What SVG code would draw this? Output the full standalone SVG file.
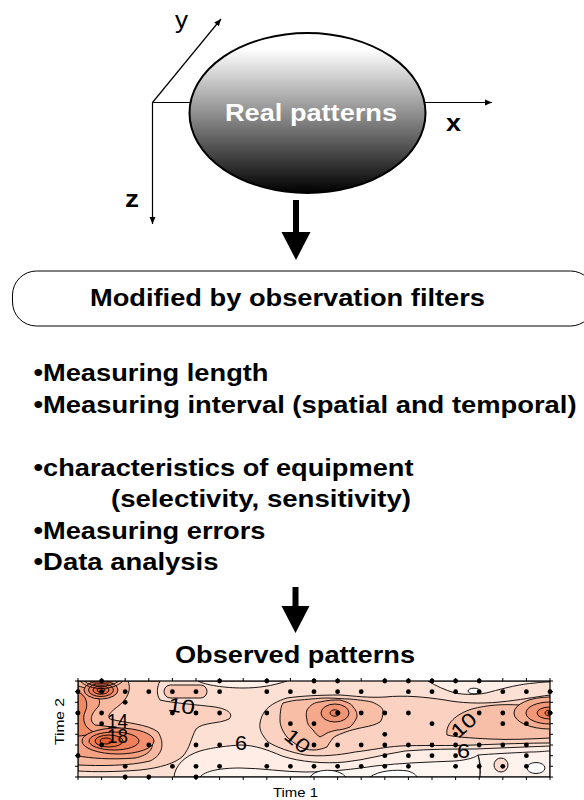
<svg xmlns="http://www.w3.org/2000/svg" width="584" height="800" viewBox="0 0 584 800">
<style>
.b{font-family:"Liberation Sans",Arial,sans-serif;font-weight:bold;font-size:23px;fill:#000}
.r{font-family:"Liberation Sans",Arial,sans-serif;fill:#000}
.ax{stroke:#000;stroke-width:1.2;fill:none}
.c{stroke:#000;stroke-width:0.9}
.lbl{font-family:"Liberation Sans",Arial,sans-serif;font-size:20px;fill:#000}
.d{fill:#000}
.tk{stroke:#000;stroke-width:1}
</style>
<defs>
<linearGradient id="g" x1="0" y1="0" x2="0" y2="1">
<stop offset="0" stop-color="#ffffff"/>
<stop offset="0.1" stop-color="#ffffff"/>
<stop offset="0.5" stop-color="#909090"/>
<stop offset="1" stop-color="#000000"/>
</linearGradient>
<marker id="ah" markerWidth="8" markerHeight="8" refX="7" refY="4" orient="auto" markerUnits="userSpaceOnUse">
<path d="M0,1 L7,4 L0,7 Z" fill="#000"/>
</marker>
<clipPath id="pc"><rect x="78" y="681" width="472" height="96"/></clipPath>
</defs>

<g id="axes">
<line class="ax" x1="152.5" y1="102.5" x2="492" y2="102.5" marker-end="url(#ah)"/>
<line class="ax" x1="152.5" y1="102.5" x2="221" y2="19" marker-end="url(#ah)"/>
<line class="ax" x1="152.5" y1="102.5" x2="152.5" y2="224" marker-end="url(#ah)"/>
<text class="r" x="175" y="28" font-size="24" textLength="13" lengthAdjust="spacingAndGlyphs">y</text>
<text class="b" x="446" y="131" font-size="22" textLength="15" lengthAdjust="spacingAndGlyphs">x</text>
<text class="b" x="125" y="207" font-size="22" textLength="14" lengthAdjust="spacingAndGlyphs">z</text>
</g>

<g id="real-patterns">
<ellipse cx="307.5" cy="113" rx="118" ry="80" fill="url(#g)" stroke="#000" stroke-width="2"/>
<text class="b" x="225" y="121" style="fill:#fff" textLength="172" lengthAdjust="spacingAndGlyphs">Real patterns</text>
</g>

<g id="connectors">
<path d="M293,200 H299 V232 H310.5 L296,260 L281.5,232 H293 Z" fill="#000"/>
<path d="M292.5,587 H298.5 V606 H309.5 L295.5,633 L281.5,606 H292.5 Z" fill="#000"/>
</g>

<g id="filters">
<rect x="12.5" y="271" width="582" height="55" rx="24" ry="24" fill="#fff" stroke="#000" stroke-width="1"/>
<text class="b" x="90" y="306" textLength="395" lengthAdjust="spacingAndGlyphs">Modified by observation filters</text>
</g>

<g id="factors">
<text class="b" x="33.5" y="381" textLength="235" lengthAdjust="spacingAndGlyphs">•Measuring length</text>
<text class="b" x="33.5" y="412.5" textLength="543" lengthAdjust="spacingAndGlyphs">•Measuring interval (spatial and temporal)</text>
<text class="b" x="33.5" y="475.5" textLength="380" lengthAdjust="spacingAndGlyphs">•characteristics of equipment</text>
<text class="b" x="111" y="507" textLength="300" lengthAdjust="spacingAndGlyphs">(selectivity, sensitivity)</text>
<text class="b" x="33.5" y="538.5" textLength="232" lengthAdjust="spacingAndGlyphs">•Measuring errors</text>
<text class="b" x="33.5" y="569.5" textLength="185" lengthAdjust="spacingAndGlyphs">•Data analysis</text>
</g>

<g id="observed-patterns">
<text class="b" x="175" y="663" textLength="240" lengthAdjust="spacingAndGlyphs">Observed patterns</text>
<g clip-path="url(#pc)">
<rect x="78" y="681" width="472" height="96" fill="#fde0d4"/>
<path class="c" fill="#ffede6" d="M174,777 C175,766 184,756 200,751 C214,747 228,746 240,745 C255,745 268,750 282,756 C300,762 325,764 345,762 C365,760 385,754 405,751 C430,749 452,749 475,749 C500,748 525,747 550,746 L550,777 Z"/>
<path class="c" fill="#fff6f2" d="M200,777 C205,771 220,768 240,768 C260,768 285,772 305,772 C330,772 355,769 375,766 C400,763 430,762 455,761 C468,760 476,757 478,755 C480,762 480,770 480,777 Z"/>
<path class="c" fill="#ffffff" d="M310,777 C314,771 325,769 335,771 C342,773 344,775 346,777 Z"/>
<path class="c" fill="#ffffff" d="M370,777 C378,771 395,769 408,771 C414,773 416,775 417,777 Z"/>
<path class="c" fill="#fff1ec" d="M480,777 C481,768 480,760 478,755 C490,754 510,753 530,752 C540,752 546,751 550,751 L550,777 Z"/>
<ellipse class="c" cx="536" cy="768" rx="9" ry="5.5" fill="#fff"/>
<circle class="c" cx="501" cy="765" r="7" fill="#fcdace"/>
<path class="c" fill="#ffefe9" d="M198,681 C205,685 225,688 243,688 C258,688 272,686 287,681 Z"/>
<path class="c" fill="#ffefe9" d="M428,681 C436,686 445,690 455,693 C465,695 480,695 490,692 C505,688 520,684 535,683 C542,682 547,682 550,682 L550,681 Z"/>
<ellipse class="c" cx="474" cy="691" rx="6" ry="2.8" fill="#fff"/>
<path class="c" fill="#fbd0be" d="M78,681 L160,681 C157,687 156,694 160,700 C172,703 200,705 215,707 C228,709 234,714 229,719 C219,724 203,722 196,729 C191,738 190,748 183,756 C176,763 160,768 140,770 C115,772 95,772 78,771 Z"/>
<rect class="c" x="164" y="685" width="43" height="13" rx="6.5" fill="#f9c7b3"/>
<path class="c" fill="#f7b99f" d="M78,681 L128,681 C131,688 129,696 122,703 C114,710 106,714 110,719 C125,723 148,724 158,732 C165,743 163,755 150,761 C130,766 100,766 78,765 Z"/>
<path class="c" fill="#f4a283" d="M78,686 C92,689 104,698 98,707 C92,713 88,720 95,725 C115,727 138,730 150,738 C156,747 150,755 135,758 C110,760 90,758 78,756 Z"/>
<path class="c" fill="#f08a63" d="M78,692 C86,695 89,704 85,712 C82,719 84,728 94,732 C88,735 82,736 78,736 Z"/>
<ellipse class="c" cx="118" cy="741" rx="36" ry="13" fill="#f29070"/>
<ellipse class="c" cx="114" cy="741" rx="25" ry="9" fill="#ef7f58"/>
<ellipse class="c" cx="109" cy="741" rx="14" ry="6" fill="#eb6d42"/>
<ellipse class="c" cx="106" cy="741" rx="6" ry="3" fill="#e65f32"/>
<ellipse class="c" cx="101" cy="690" rx="17" ry="9" fill="#f29070"/>
<ellipse class="c" cx="101" cy="690" rx="12.5" ry="6.5" fill="#ef7f58"/>
<ellipse class="c" cx="101" cy="690" rx="8" ry="4.2" fill="#eb6d42"/>
<ellipse class="c" cx="101" cy="690" rx="4" ry="2.2" fill="#e45a2c"/>
<path fill="#6b2a14" opacity="0.8" d="M88,681 C94,686 108,686 115,681 Z"/>
<path class="c" fill="none" d="M84,681 C92,688 110,688 119,681 M80,681 C90,691 113,691 123,681"/>
<path class="c" fill="#fbd2c1" d="M260,723 C262,712 268,704 287,698 C300,696 320,695 340,695 C355,696 368,698 385,697 C405,695 425,697 445,700 C460,703 480,704 500,702 C520,700 535,697 550,695 L550,743 C530,743 500,744 474,745 C450,746 420,745 400,746 C385,747 372,750 355,752 C340,755 320,757 305,755 C290,752 278,748 268,742 C262,735 259,730 260,723 Z"/>
<path class="c" fill="#f8bea6" d="M283,703 C290,701 296,700 300,700 C312,699 320,698 327,698 C335,698 343,699 350,699 C360,700 368,701 372,702 C379,705 383,708 383,711 C383,716 382,720 380,722 C375,725 370,726 365,727 C355,729 348,731 343,733 C338,735 335,736 333,738 C330,742 328,745 327,747 C322,749 318,750 313,750 C308,750 304,749 300,747 C294,743 290,740 287,737 C283,732 280,726 280,720 C280,712 281,706 283,703 Z"/>
<path class="c" fill="#f5a88b" d="M307,710 C310,705 315,702 320,702 C328,700 334,700 340,700 C347,702 352,704 353,707 C357,711 357,714 357,717 C355,722 352,725 350,727 C345,729 340,730 337,730 C333,731 329,732 327,733 C324,735 322,736 320,737 C317,735 315,733 313,730 C310,727 307,724 307,720 C306,716 306,713 307,710 Z"/>
<ellipse class="c" cx="335" cy="713" rx="14" ry="9" fill="#f29574"/>
<ellipse class="c" cx="335" cy="713" rx="5" ry="3.2" fill="#ee8360"/>
<path class="c" fill="#f8bfa8" d="M447,735 C445,724 456,714 472,709 C487,705 502,704 520,705 C535,705 545,704 550,703 L550,738 C530,739 510,740 490,739 C470,738 455,737 447,735 Z"/>
<ellipse class="c" cx="550" cy="713" rx="36" ry="16" fill="#f5ac8f"/>
<ellipse class="c" cx="550" cy="713" rx="24" ry="11" fill="#f29877"/>
<ellipse class="c" cx="550" cy="713" rx="13" ry="6" fill="#ee835c"/>
<ellipse class="c" cx="550" cy="713" rx="5" ry="3" fill="#ea6e42"/>
</g>
<rect x="78" y="681" width="472" height="96" fill="none" stroke="#000" stroke-width="1.2"/>
<g id="ticks">
<path class="tk" d="M78,777v3M101.6,777v3M125.2,777v3M148.8,777v3M172.4,777v3M196,777v3M219.6,777v3M243.2,777v3M266.8,777v3M290.4,777v3M314,777v3M337.6,777v3M361.2,777v3M384.8,777v3M408.4,777v3M432,777v3M455.6,777v3M479.2,777v3M502.8,777v3M526.4,777v3M550,777v3"/>
<path class="tk" d="M78,681v-3M101.6,681v-3M125.2,681v-3M148.8,681v-3M172.4,681v-3M196,681v-3M219.6,681v-3M243.2,681v-3M266.8,681v-3M290.4,681v-3M314,681v-3M337.6,681v-3M361.2,681v-3M384.8,681v-3M408.4,681v-3M432,681v-3M455.6,681v-3M479.2,681v-3M502.8,681v-3M526.4,681v-3M550,681v-3"/>
<path class="tk" d="M78,681h-3M78,691.7h-3M78,702.3h-3M78,713h-3M78,723.7h-3M78,734.3h-3M78,745h-3M78,755.7h-3M78,766.3h-3M78,777h-3"/>
<path class="tk" d="M550,681h3M550,691.7h3M550,702.3h3M550,713h3M550,723.7h3M550,734.3h3M550,745h3M550,755.7h3M550,766.3h3M550,777h3"/>
</g>
<g id="data-points">
<circle class="d" r="2.4" cx="101.6" cy="681"/><circle class="d" r="2.4" cx="219.6" cy="681"/><circle class="d" r="2.4" cx="266.8" cy="681"/><circle class="d" r="2.4" cx="314" cy="681"/><circle class="d" r="2.4" cx="337.6" cy="681"/><circle class="d" r="2.4" cx="384.8" cy="681"/><circle class="d" r="2.4" cx="408.4" cy="681"/><circle class="d" r="2.4" cx="432" cy="681"/><circle class="d" r="2.4" cx="455.6" cy="681"/><circle class="d" r="2.4" cx="479.2" cy="681"/>
<circle class="d" r="2.4" cx="78" cy="691.7"/><circle class="d" r="2.4" cx="101.6" cy="691.7"/><circle class="d" r="2.4" cx="125.2" cy="691.7"/><circle class="d" r="2.4" cx="148.8" cy="691.7"/><circle class="d" r="2.4" cx="172.4" cy="691.7"/><circle class="d" r="2.4" cx="196" cy="691.7"/><circle class="d" r="2.4" cx="219.6" cy="691.7"/><circle class="d" r="2.4" cx="266.8" cy="691.7"/><circle class="d" r="2.4" cx="290.4" cy="691.7"/><circle class="d" r="2.4" cx="314" cy="691.7"/><circle class="d" r="2.4" cx="337.6" cy="691.7"/><circle class="d" r="2.4" cx="361.2" cy="691.7"/><circle class="d" r="2.4" cx="408.4" cy="691.7"/><circle class="d" r="2.4" cx="432" cy="691.7"/><circle class="d" r="2.4" cx="455.6" cy="691.7"/><circle class="d" r="2.4" cx="479.2" cy="691.7"/><circle class="d" r="2.4" cx="502.8" cy="691.7"/><circle class="d" r="2.4" cx="526.4" cy="691.7"/><circle class="d" r="2.4" cx="550" cy="691.7"/>
<circle class="d" r="2.4" cx="125.2" cy="702.3"/>
<circle class="d" r="2.4" cx="78" cy="713"/><circle class="d" r="2.4" cx="101.6" cy="713"/><circle class="d" r="2.4" cx="172.4" cy="713"/><circle class="d" r="2.4" cx="196" cy="713"/><circle class="d" r="2.4" cx="219.6" cy="713"/><circle class="d" r="2.4" cx="266.8" cy="713"/><circle class="d" r="2.4" cx="337.6" cy="713"/><circle class="d" r="2.4" cx="361.2" cy="713"/><circle class="d" r="2.4" cx="384.8" cy="713"/><circle class="d" r="2.4" cx="408.4" cy="713"/><circle class="d" r="2.4" cx="479.2" cy="713"/><circle class="d" r="2.4" cx="502.8" cy="713"/><circle class="d" r="2.4" cx="550" cy="713"/>
<circle class="d" r="2.4" cx="101.6" cy="723.7"/><circle class="d" r="2.4" cx="290.4" cy="723.7"/><circle class="d" r="2.4" cx="314" cy="723.7"/><circle class="d" r="2.4" cx="432" cy="723.7"/><circle class="d" r="2.4" cx="502.8" cy="723.7"/><circle class="d" r="2.4" cx="526.4" cy="723.7"/>
<circle class="d" r="2.4" cx="384.8" cy="734.3"/><circle class="d" r="2.4" cx="455.6" cy="734.3"/>
<circle class="d" r="2.4" cx="101.6" cy="745"/><circle class="d" r="2.4" cx="148.8" cy="745"/><circle class="d" r="2.4" cx="196" cy="745"/><circle class="d" r="2.4" cx="219.6" cy="745"/><circle class="d" r="2.4" cx="266.8" cy="745"/><circle class="d" r="2.4" cx="314" cy="745"/><circle class="d" r="2.4" cx="337.6" cy="745"/><circle class="d" r="2.4" cx="361.2" cy="745"/><circle class="d" r="2.4" cx="384.8" cy="745"/><circle class="d" r="2.4" cx="408.4" cy="745"/><circle class="d" r="2.4" cx="432" cy="745"/><circle class="d" r="2.4" cx="455.6" cy="745"/><circle class="d" r="2.4" cx="479.2" cy="745"/><circle class="d" r="2.4" cx="502.8" cy="745"/><circle class="d" r="2.4" cx="526.4" cy="745"/>
<circle class="d" r="2.4" cx="78" cy="755.7"/><circle class="d" r="2.4" cx="384.8" cy="755.7"/><circle class="d" r="2.4" cx="408.4" cy="755.7"/><circle class="d" r="2.4" cx="432" cy="755.7"/><circle class="d" r="2.4" cx="455.6" cy="755.7"/><circle class="d" r="2.4" cx="526.4" cy="755.7"/>
<circle class="d" r="2.4" cx="125.2" cy="766.3"/><circle class="d" r="2.4" cx="172.4" cy="766.3"/><circle class="d" r="2.4" cx="196" cy="766.3"/><circle class="d" r="2.4" cx="219.6" cy="766.3"/><circle class="d" r="2.4" cx="266.8" cy="766.3"/><circle class="d" r="2.4" cx="290.4" cy="766.3"/><circle class="d" r="2.4" cx="314" cy="766.3"/><circle class="d" r="2.4" cx="337.6" cy="766.3"/><circle class="d" r="2.4" cx="361.2" cy="766.3"/><circle class="d" r="2.4" cx="384.8" cy="766.3"/><circle class="d" r="2.4" cx="408.4" cy="766.3"/><circle class="d" r="2.4" cx="455.6" cy="766.3"/><circle class="d" r="2.4" cx="479.2" cy="766.3"/><circle class="d" r="2.4" cx="502.8" cy="766.3"/><circle class="d" r="2.4" cx="526.4" cy="766.3"/>
<circle class="d" r="2.4" cx="125.2" cy="777"/><circle class="d" r="2.4" cx="148.8" cy="777"/><circle class="d" r="2.4" cx="196" cy="777"/>
</g>
<g id="contour-labels">
<text class="lbl" x="168" y="713" textLength="27" lengthAdjust="spacingAndGlyphs" transform="rotate(8 182 706)">10</text>
<text class="lbl" x="107" y="728" textLength="21" lengthAdjust="spacingAndGlyphs">14</text>
<text class="lbl" x="107" y="743" textLength="21" lengthAdjust="spacingAndGlyphs">18</text>
<text class="lbl" x="235" y="750" textLength="12" lengthAdjust="spacingAndGlyphs">6</text>
<text class="lbl" x="284" y="748" textLength="27" lengthAdjust="spacingAndGlyphs" transform="rotate(40 297.5 741)">10</text>
<text class="lbl" x="450" y="732" textLength="27" lengthAdjust="spacingAndGlyphs" transform="rotate(-42 463.5 725)">10</text>
<text class="lbl" x="457" y="758" textLength="13" lengthAdjust="spacingAndGlyphs">6</text>
</g>
<text class="r" font-size="12.5" text-anchor="middle" x="0" y="0" transform="translate(64 721.5) rotate(-90)" textLength="47" lengthAdjust="spacingAndGlyphs">Time 2</text>
<text class="r" font-size="12.5" x="273" y="796.5" textLength="45" lengthAdjust="spacingAndGlyphs">Time 1</text>
</g>
</svg>
